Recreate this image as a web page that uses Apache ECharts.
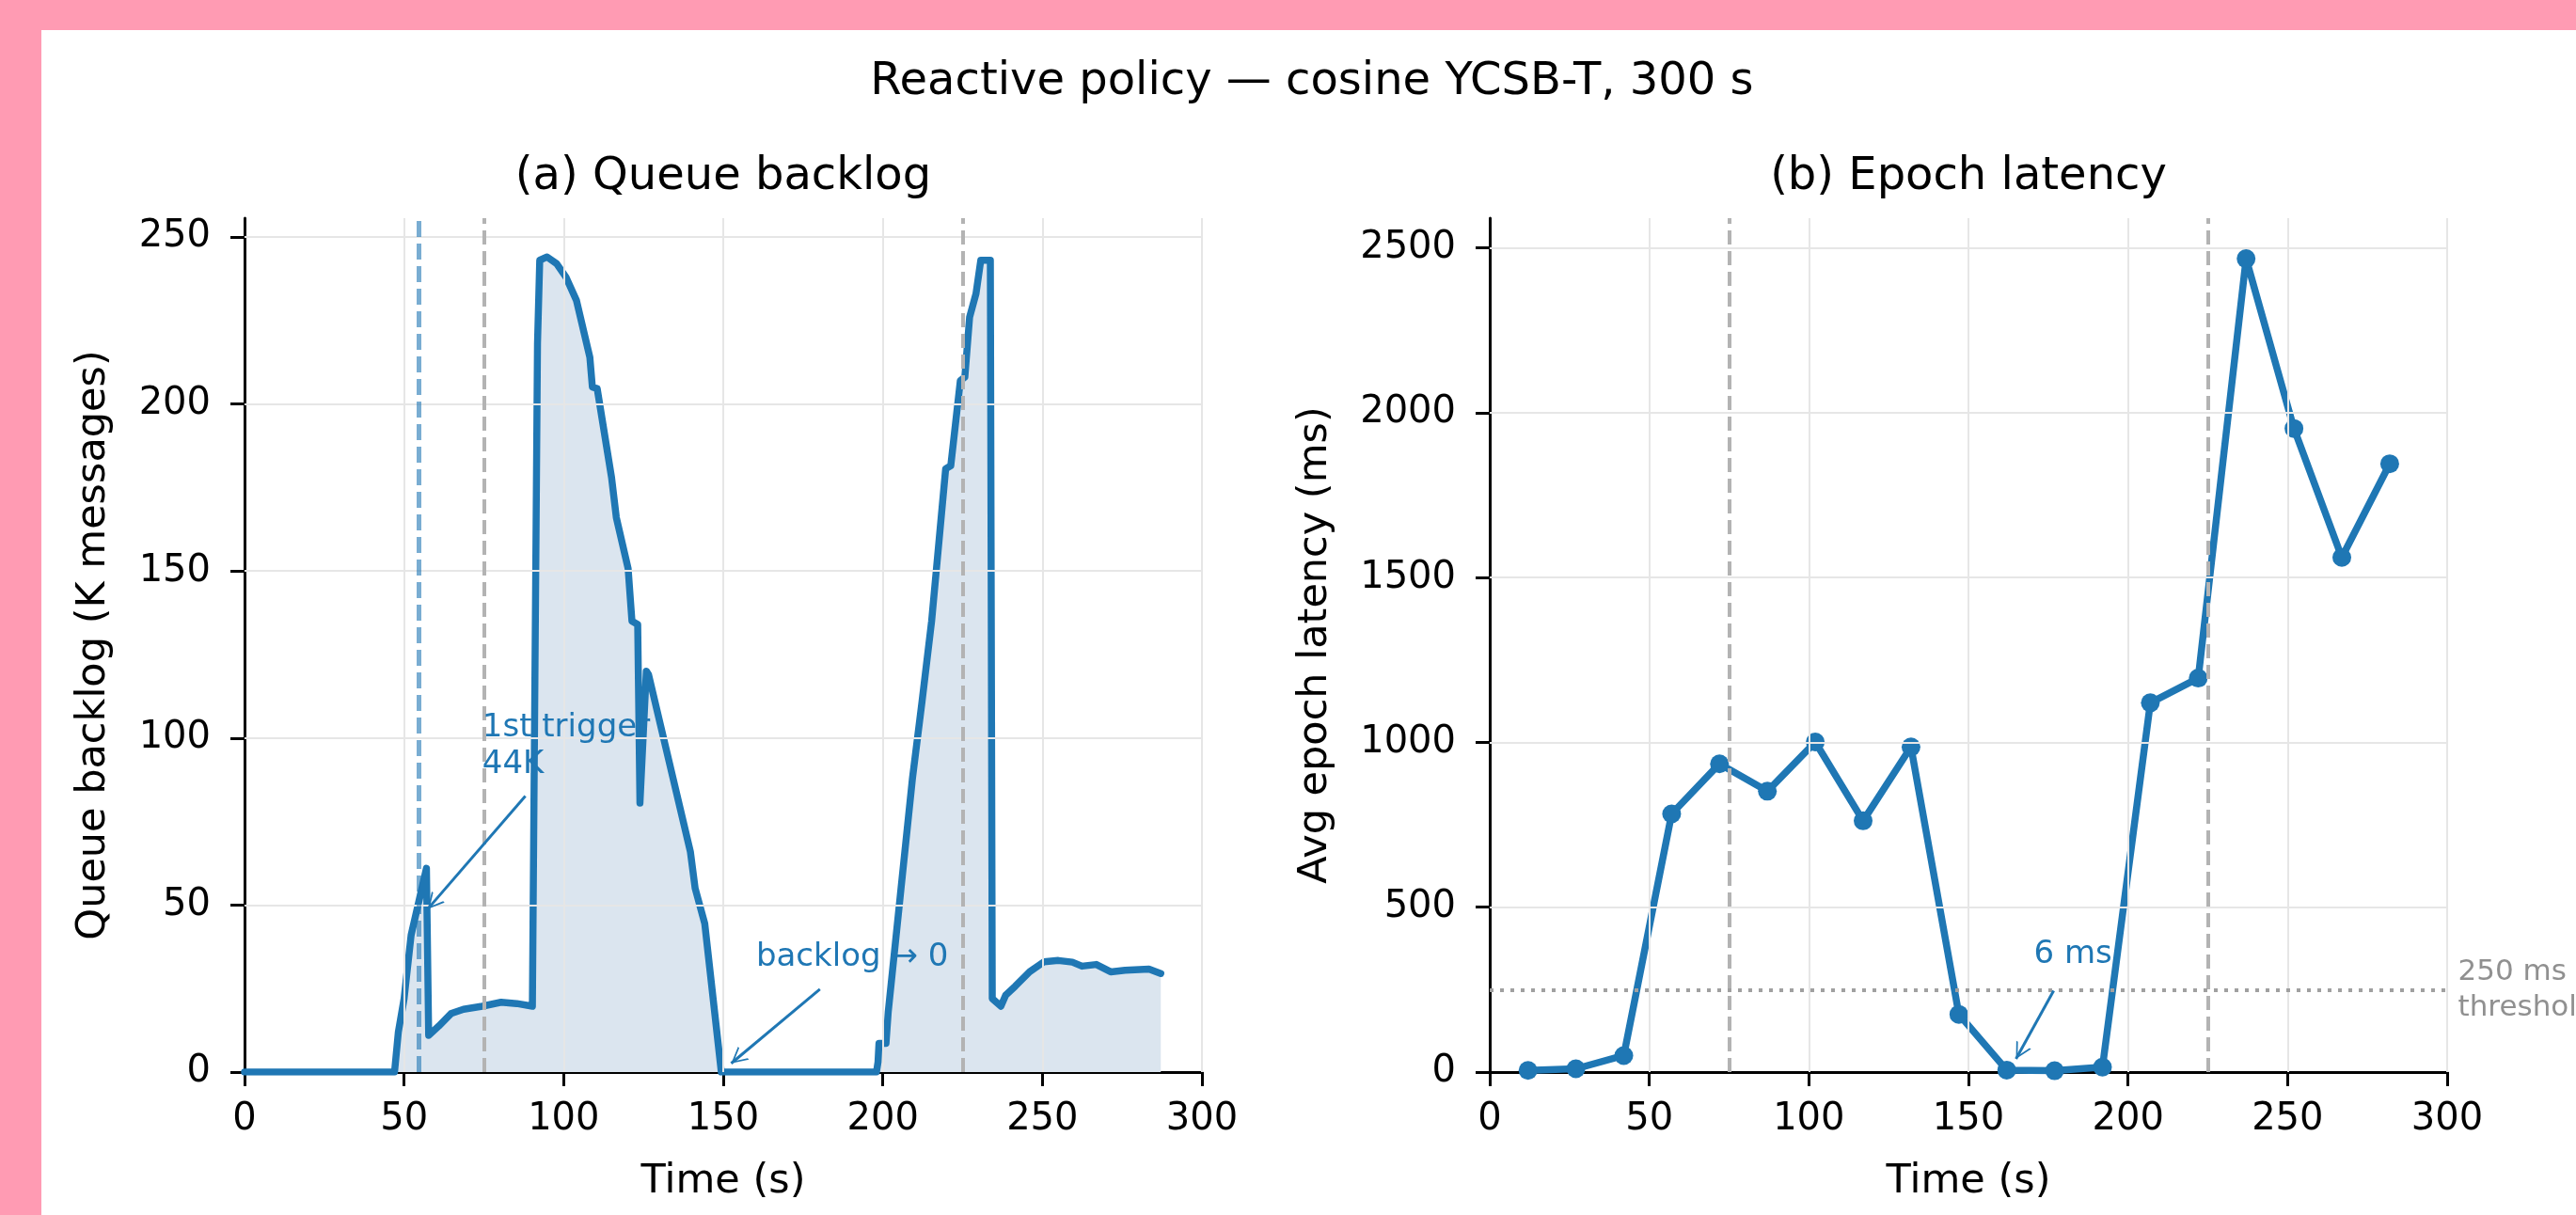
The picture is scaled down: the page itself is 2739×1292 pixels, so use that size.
<!DOCTYPE html>
<html><head><meta charset="utf-8">
<script src="https://cdn.jsdelivr.net/npm/echarts@6/dist/echarts.min.js"></script>
<style>
html,body{margin:0;padding:0;width:2739px;height:1292px;overflow:hidden;background:#ff9bb3;}
#fig{position:absolute;left:44px;top:32px;right:0;bottom:0;background:#ffffff;}
#c{position:absolute;left:0;top:0;width:2739px;height:1292px;}
</style></head><body><div id="fig"></div><div id="c"></div>
<script>
// ---------- data ----------
const backlogTime = [0,47,48.2,50,52.2,57,57.7,60.8,64.7,68.6,74.5,80.4,85.3,90.2,91.8,92.5,94.8,97.8,100.7,104,108.2,109,110.5,115,116.5,120.2,121.4,123.2,123.9,125.9,126.6,139.7,141.2,144.2,149.4,198,198.5,198.8,201,201.7,205.5,209.3,212.3,215.3,219.7,221.3,224.3,225.7,227.2,229.2,230.7,233.7,234.3,237,238.5,241.5,246,250.5,255,259.4,262.4,266.9,271.4,275.9,283.4,287.1];
const backlogK = [0,0,12,22,41,61,11,13.7,17.5,18.8,19.7,20.9,20.5,19.7,218,243,244,242,238,231,214,205,204.6,178,166,150.7,135,134,80.5,120,119,66,55,44.5,0,0,3,8.6,8.6,18,53,88,111,135,180.6,181.5,207,208,226,233,243,243,22,19.7,23,25.7,30,33,33.4,32.9,31.7,32.2,30,30.5,30.8,29.5];
const epochTime = [12,27,42,57,72,87,102,117,132,147,162,177,192,207,222,237,252,267,282];
const epochLatency = [5,10,50,783,935,852,1001,762,986,175,6,4,15,1120,1195,2467,1952,1561,1845];

const xTicks = [0,50,100,150,200,250,300];
const backlogTicks = [0,50,100,150,200,250];
const latencyTicks = [0,500,1000,1500,2000,2500];
const backlogMax = 255.6;
const latencyMax = 2590;

const triggerTime = [54.6];
const policyTimes = [75,225];
const thresholdMs = [250];

// annotations (data coords)
const annLeftText = ['1st trigger\n44K','backlog \u2192 0'];
const annLeftTextAt = [[74.5,97.5],[160.3,34.4]];
const annLeftFrom = [[88,82.6],[180.3,24.8]];
const annLeftTo = [[57.4,48.8],[152.5,2.6]];
const annRightText = ['6 ms'];
const annRightTextAt = [[170.5,356]];
const annRightFrom = [[176.7,247]];
const annRightTo = [[164.9,40]];
const thresholdLabel = '250 ms\nthreshold';
const thresholdLabelAt = [303.4,249];

// ---------- styling ----------
const BLUE = '#1f77b4';
const FONT = 'DejaVu Sans';
const GRIDC = '#e6e6e6';
const chevron = 'path://M10,0 L10.01,0 L10,0.01 Z M10,14 L20,28 L17.8,28 L10,17 L2.2,28 L0,28 Z';

const pairs = (xs, ys) => xs.map((x,i)=>[x, ys[i]]);
const plain = v => String(v);

function axisCommon(){
  return {
    axisLine:{show:true,onZero:false,lineStyle:{color:'#000',width:3}},
    axisTick:{show:true,length:15,lineStyle:{color:'#000',width:3}},
    splitLine:{show:false},
  };
}
function xAxis(i){
  const a = axisCommon();
  return Object.assign(a,{type:'value',gridIndex:i,min:0,max:300,interval:50,
    axisLabel:{fontSize:40,fontFamily:FONT,color:'#000',margin:31,customValues:xTicks,formatter:plain},
  });
}
function yAxis(i,max,ticks){
  const a = axisCommon();
  a.axisTick.customValues = ticks;
  return Object.assign(a,{type:'value',gridIndex:i,min:0,max:max,
    axisLabel:{fontSize:40,fontFamily:FONT,color:'#000',margin:36,customValues:ticks,formatter:plain},
  });
}
function gridLines(i, yTicks){
  const d = [];
  xTicks.filter(v=>v>0).forEach(v=>d.push({xAxis:v}));
  yTicks.filter(v=>v>0).forEach(v=>d.push({yAxis:v}));
  return {type:'line',xAxisIndex:i,yAxisIndex:i,data:[],z:2,silent:true,
    markLine:{silent:true,symbol:'none',animation:false,label:{show:false},
      lineStyle:{color:GRIDC,width:2,type:'solid'},emphasis:{disabled:true},data:d}};
}
function arrows(i, from, to){
  return {type:'line',xAxisIndex:i,yAxisIndex:i,data:[],z:6,silent:true,
    markLine:{silent:true,animation:false,symbol:['none',chevron],symbolSize:[18,34],
      label:{show:false},emphasis:{disabled:true},
      lineStyle:{color:BLUE,width:3,type:'solid'},
      data: from.map((f,k)=>[{coord:f},{coord:to[k]}])}};
}

const option = {
  animation:false,
  backgroundColor:'transparent',
  grid:[
    {left:260,top:232,width:1018,height:908,containLabel:false,outerBoundsMode:'none'},
    {left:1584,top:232,width:1018,height:908,containLabel:false,outerBoundsMode:'none'}
  ],
  xAxis:[xAxis(0),xAxis(1)],
  yAxis:[yAxis(0,backlogMax,backlogTicks),yAxis(1,latencyMax,latencyTicks)],
  series:[
    // left: area fill
    {type:'line',xAxisIndex:0,yAxisIndex:0,data:pairs(backlogTime,backlogK),z:1,
      showSymbol:false,symbol:'none',lineStyle:{width:0,opacity:0},
      areaStyle:{color:'#dbe5ef',opacity:1},silent:true},
    gridLines(0,backlogTicks),
    // left reference lines
    {type:'line',xAxisIndex:0,yAxisIndex:0,data:[],z:3,silent:true,
      markLine:{silent:true,symbol:'none',animation:false,label:{show:false},emphasis:{disabled:true},
        data:[
          ...policyTimes.map(v=>({xAxis:v,lineStyle:{color:'#b3b3b3',width:4,type:[15,7]}})),
          ...triggerTime.map(v=>({xAxis:v,lineStyle:{color:'rgba(31,119,180,0.6)',width:5,type:[17,7]}}))
        ]}},
    // left main line
    {type:'line',xAxisIndex:0,yAxisIndex:0,data:pairs(backlogTime,backlogK),z:4,
      showSymbol:false,symbol:'none',lineStyle:{color:BLUE,width:7.5,join:'round',cap:'round'}},
    arrows(0,annLeftFrom,annLeftTo),
    // right
    gridLines(1,latencyTicks),
    {type:'line',xAxisIndex:1,yAxisIndex:1,data:[],z:3,silent:true,
      markLine:{silent:true,symbol:'none',animation:false,label:{show:false},emphasis:{disabled:true},
        data:[
          ...policyTimes.map(v=>({xAxis:v,lineStyle:{color:'#b3b3b3',width:4,type:[15,7]}})),
          ...thresholdMs.map(v=>({yAxis:v,lineStyle:{color:'#a0a0a0',width:4,type:[4,7]}}))
        ]}},
    {type:'line',xAxisIndex:1,yAxisIndex:1,data:pairs(epochTime,epochLatency),z:4,
      symbol:'circle',symbolSize:20,showSymbol:true,
      itemStyle:{color:BLUE,borderWidth:0},
      lineStyle:{color:BLUE,width:7.5,join:'round',cap:'round'}},
    arrows(1,annRightFrom,annRightTo)
  ]
};

const chart = echarts.init(document.getElementById('c'),null,{renderer:'canvas',width:2739,height:1292});
chart.setOption(option);

function px(i, pt){ return chart.convertToPixel({xAxisIndex:i,yAxisIndex:i}, pt); }
function txt(x,y,text,size,opts){
  return Object.assign({type:'text',x:x,y:y,silent:true,z:100,
    style:Object.assign({text:text,fontSize:size,fontFamily:FONT,fill:'#000',align:'center',verticalAlign:'middle'},opts&&opts.style||{})},
    opts&&opts.el||{});
}
const g = [];
g.push(txt(1395,87.6,'Reactive policy \u2014 cosine YCSB-T, 300 s',48));
g.push(txt(769,189,'(a) Queue backlog',48));
g.push(txt(2093,189,'(b) Epoch latency',48));
g.push(txt(769,1257,'Time (s)',43));
g.push(txt(2093,1257,'Time (s)',43));
g.push(txt(100,686,'Queue backlog (K messages)',43,{el:{rotation:Math.PI/2}}));
g.push(txt(1399,686,'Avg epoch latency (ms)',43,{el:{rotation:Math.PI/2}}));
annLeftText.forEach((t,k)=>{
  const p = px(0, annLeftTextAt[k]);
  g.push(txt(p[0],p[1],t,34,{style:{fill:BLUE,align:'left',lineHeight:39}}));
});
annRightText.forEach((t,k)=>{
  const p = px(1, annRightTextAt[k]);
  g.push(txt(p[0],p[1],t,34,{style:{fill:BLUE,align:'left',lineHeight:39}}));
});
{
  const p = px(1, thresholdLabelAt);
  g.push(txt(p[0],p[1],thresholdLabel,31,{style:{fill:'#909090',align:'left',lineHeight:38}}));
}
chart.setOption({graphic:{elements:g}});
</script></body></html>
